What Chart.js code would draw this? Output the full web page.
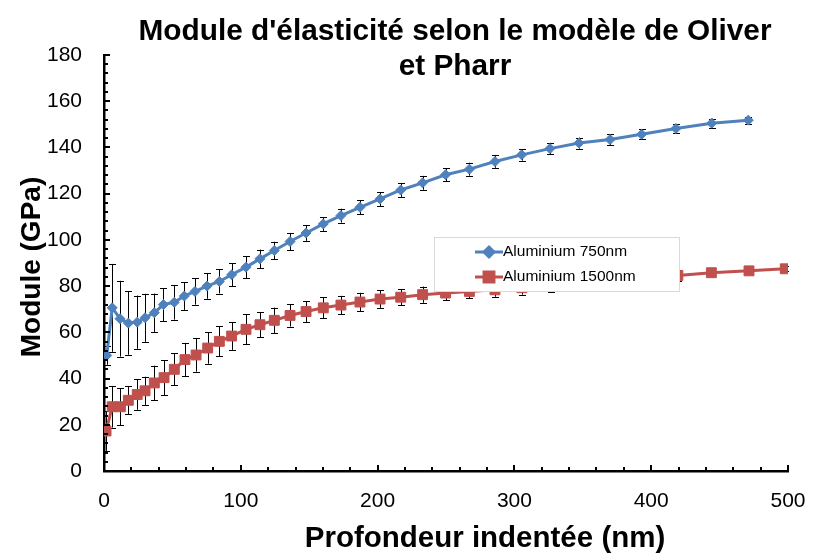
<!DOCTYPE html>
<html>
<head>
<meta charset="utf-8">
<script src="https://cdn.jsdelivr.net/npm/chart.js@4.4.1/dist/chart.umd.min.js"></script>
<style>
  html, body { margin: 0; padding: 0; background: #fff; }
  #wrap { width: 818px; height: 553px; }
</style>
</head>
<body>
<div id="wrap"><canvas id="chart" width="818" height="553"></canvas></div>
<script>
// Aluminium 750nm
var depth750 = [2, 6, 11.7, 17.8, 24.3, 30, 36.8, 43.4, 51.4, 58.7, 66.5, 75.3, 84.3, 93.3, 103.8, 114, 124.5, 136, 147.7, 160.3, 173.2, 187.1, 201.8, 216.9, 232.9, 249.7, 267.1, 285.8, 305.3, 326, 347.2, 369.9, 393, 418.1, 444.2, 471];
var module750 = [50, 70.6, 65.9, 64, 64.4, 66.3, 68.5, 72, 73, 75.7, 77.7, 80, 82, 84.9, 88.2, 91.8, 95.4, 99.3, 103, 106.9, 110.5, 114.1, 117.7, 121.6, 124.7, 128.2, 130.6, 133.9, 136.8, 139.5, 141.9, 143.4, 145.7, 148.2, 150.5, 151.8];
var err750 = [4, 19, 16.4, 13.7, 11.5, 10.4, 8.3, 7.1, 7.5, 6, 5.7, 5.5, 5.2, 5, 4.8, 4, 3.8, 3.7, 3.4, 3, 3, 3, 3, 3, 3, 2.8, 2.8, 2.7, 2.5, 2.5, 2.4, 2.4, 2.2, 2, 2, 1.5];

// Aluminium 1500nm
var depth1500 = [1.5, 6, 12, 17.8, 24.3, 30, 36.8, 43.9, 51.4, 59.2, 67.3, 75.8, 84.3, 93.3, 103.8, 114, 124.5, 136, 147.7, 160.3, 173.2, 187.1, 201.8, 216.9, 232.9, 249.7, 267.1, 285.8, 305.5, 326.5, 347.5, 370.5, 394, 419.5, 444, 471.5, 498];
var module1500 = [17.3, 27.8, 27.8, 30.6, 33.1, 34.7, 38.1, 40.4, 44, 48.2, 50.2, 53.2, 56.1, 58.4, 61.3, 63.3, 65.2, 67.3, 69, 70.6, 71.8, 73.1, 74.4, 75.2, 76.3, 77, 77.7, 78.4, 79.3, 80.3, 81.3, 82.4, 83.4, 84.6, 85.8, 86.6, 87.5];
var err1500 = [8.6, 9, 8, 6, 6.6, 6.1, 7.5, 7.6, 6.9, 7.2, 7.2, 6.8, 6.5, 6, 6.5, 5.5, 5.5, 4.8, 4.5, 4.5, 4, 4, 3.8, 3.5, 3.5, 3.2, 3, 3, 3, 3, 3, 3, 2.8, 2.5, 1.5, 1, 1];

var seriesNames = ["Aluminium 750nm", "Aluminium 1500nm"];
var xTicks = [0, 100, 200, 300, 400, 500];
var yTicks = [0, 20, 40, 60, 80, 100, 120, 140, 160, 180];

var FONT = "'Liberation Sans', Arial, sans-serif";
var BLUE = "#4F81BD";
var RED = "#C0504D";

function pts(xs, ys) {
	return xs.map(function (x, i) { return { x: x, y: ys[i] }; });
}

// error bars, drawn under the markers
var errorBars = {
	id: 'errorBars',
	beforeDatasetsDraw: function (chart) {
		var ctx = chart.ctx;
		var ys = chart.scales.y;
		ctx.save();
		ctx.strokeStyle = "#000";
		ctx.lineWidth = 1;
		chart.data.datasets.forEach(function (ds, di) {
			var meta = chart.getDatasetMeta(di);
			meta.data.forEach(function (p, i) {
				var e = ds.err[i];
				var v = ds.data[i].y;
				var top = ys.getPixelForValue(v + e);
				var bot = ys.getPixelForValue(v - e);
				var x = Math.round(p.x) + 0.5;
				ctx.beginPath();
				ctx.moveTo(x, top); ctx.lineTo(x, bot);
				ctx.moveTo(x - 3.5, Math.round(top) + 0.5); ctx.lineTo(x + 3.5, Math.round(top) + 0.5);
				ctx.moveTo(x - 3.5, Math.round(bot) + 0.5); ctx.lineTo(x + 3.5, Math.round(bot) + 0.5);
				ctx.stroke();
			});
		});
		ctx.restore();
	}
};

// inner tick marks, titles and legend box
var decor = {
	id: 'decor',
	afterDraw: function (chart) {
		var ctx = chart.ctx;
		var xs = chart.scales.x, ys = chart.scales.y;
		var a = chart.chartArea;
		ctx.save();
		ctx.strokeStyle = "#000";
		ctx.lineWidth = 2;
		ctx.beginPath();
		for (var v = 0; v <= 500; v += 20) {
			var px = Math.round(xs.getPixelForValue(v));
			var len = v % 100 === 0 ? 6 : 4;
			ctx.moveTo(px, a.bottom); ctx.lineTo(px, a.bottom - len);
		}
		for (var w = 0; w <= 180; w += 4) {
			var py = Math.round(ys.getPixelForValue(w));
			var l2 = w % 20 === 0 ? 6 : 4;
			ctx.moveTo(a.left, py); ctx.lineTo(a.left + l2, py);
		}
		ctx.stroke();

		// chart title
		ctx.fillStyle = "#000";
		ctx.textAlign = "center";
		ctx.textBaseline = "alphabetic";
		ctx.font = "bold 29.8px " + FONT;
		ctx.fillText("Module d'élasticité selon le modèle de Oliver", 455, 40);
		ctx.fillText("et Pharr", 455, 75);

		// axis titles
		ctx.font = "bold 29.5px " + FONT;
		ctx.fillText("Profondeur indentée (nm)", 485, 547);
		ctx.font = "bold 28px " + FONT;
		ctx.save();
		ctx.translate(40, 267);
		ctx.rotate(-Math.PI / 2);
		ctx.fillText("Module (GPa)", 0, 0);
		ctx.restore();

		// legend
		ctx.fillStyle = "#fff";
		ctx.fillRect(434, 237, 245, 54);
		ctx.strokeStyle = "#d9d9d9";
		ctx.lineWidth = 1;
		ctx.strokeRect(434.5, 237.5, 245, 54);
		var rows = [
			{ y: 252, color: BLUE, style: 'rectRot', r: 5 },
			{ y: 277, color: RED, style: 'rect', r: 7 }
		];
		rows.forEach(function (row, i) {
			ctx.strokeStyle = row.color;
			ctx.lineWidth = 3;
			ctx.beginPath();
			ctx.moveTo(475, row.y); ctx.lineTo(503, row.y);
			ctx.stroke();
			ctx.fillStyle = row.color;
			Chart.helpers.drawPoint(ctx, { pointStyle: row.style, radius: row.r, borderWidth: 1 }, 489, row.y);
			ctx.fill();
			ctx.fillStyle = "#000";
			ctx.textAlign = "left";
			ctx.textBaseline = "middle";
			ctx.font = "15.5px " + FONT;
			ctx.fillText(seriesNames[i], 503, row.y);
		});
		ctx.restore();
	}
};

new Chart(document.getElementById("chart"), {
	type: 'line',
	data: {
		datasets: [
			{
				label: seriesNames[0],
				data: pts(depth750, module750),
				err: err750,
				borderColor: BLUE,
				backgroundColor: BLUE,
				borderWidth: 3,
				pointStyle: 'rectRot',
				pointRadius: 5,
				pointBorderWidth: 1,
				tension: 0
			},
			{
				label: seriesNames[1],
				data: pts(depth1500, module1500),
				err: err1500,
				borderColor: RED,
				backgroundColor: RED,
				borderWidth: 3,
				pointStyle: 'rect',
				pointRadius: 7,
				pointBorderWidth: 1,
				tension: 0
			}
		]
	},
	options: {
		responsive: false,
		animation: false,
		layout: { padding: { left: 0, top: 55, right: 30, bottom: 0 } },
		plugins: {
			legend: { display: false },
			title: { display: false },
			tooltip: { enabled: false }
		},
		scales: {
			x: {
				type: 'linear',
				min: 0, max: 500,
				afterBuildTicks: function (s) { s.ticks = xTicks.map(function (v) { return { value: v }; }); },
				grid: { display: true, drawOnChartArea: false, drawTicks: false },
				border: { color: "#000", width: 2.5 },
				ticks: { padding: 18, color: "#000", font: { family: FONT, size: 21 } },
				afterFit: function (s) { s.height = 82; s.paddingLeft = 0; s.paddingRight = 0; }
			},
			y: {
				min: 0, max: 180,
				afterBuildTicks: function (s) { s.ticks = yTicks.map(function (v) { return { value: v }; }); },
				grid: { display: true, drawOnChartArea: false, drawTicks: false },
				border: { color: "#000", width: 2.5 },
				ticks: { padding: 22, color: "#000", font: { family: FONT, size: 21 } },
				afterFit: function (s) { s.width = 104; s.paddingTop = 0; s.paddingBottom = 0; }
			}
		}
	},
	plugins: [errorBars, decor]
});
</script>
</body>
</html>
